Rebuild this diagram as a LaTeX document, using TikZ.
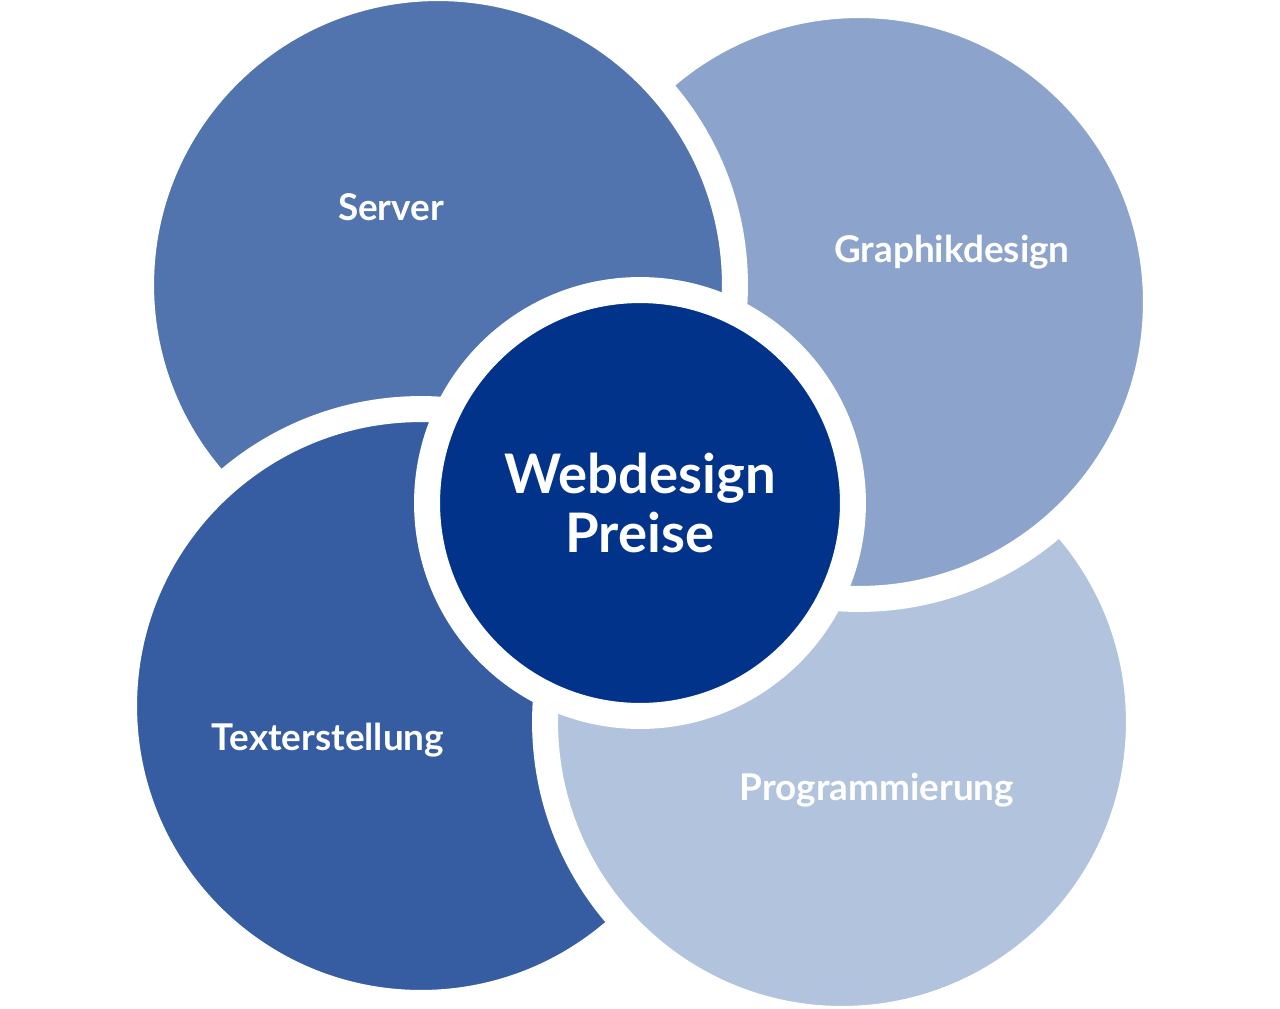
\documentclass[tikz,border=0pt]{standalone}
\usepackage{fontspec}
\setmainfont{Lato}
\usetikzlibrary{positioning}
\definecolor{cserver}{HTML}{5173AE}
\definecolor{cgraphik}{HTML}{8CA4CC}
\definecolor{ctext}{HTML}{365DA2}
\definecolor{cprog}{HTML}{B2C3DE}
\definecolor{ccenter}{HTML}{02338A}
\tikzset{
  petal/.style={circle, draw=white, line width=0.52cm, minimum size=11.88cm, inner sep=0pt},
  hub/.style={circle, draw=white, line width=0.52cm, minimum size=8.52cm, inner sep=0pt, fill=ccenter},
  petallabel/.style={text=white, font=\bfseries\fontsize{21}{24}\selectfont},
  hublabel/.style={text=white, align=center, font=\bfseries\fontsize{31}{34}\selectfont}
}
\begin{document}
\begin{tikzpicture}[x=0.02cm, y=-0.02cm]
    \useasboundingbox (0,0) rectangle (1280,1008);
    % Petals
    \node (text) [petal, fill=ctext] at (421,706) {};
    \node (prog) [petal, fill=cprog] at (842,722) {};
    \node (graphik) [petal, fill=cgraphik] at (859,302) {};
    \node (server) [petal, fill=cserver] at (438,285) {};
    \begin{scope}
      \clip (0,380) rectangle (520,640);
      \node (text2) [petal, fill=ctext] at (421,706) {};
    \end{scope}
    % Hub
    \node (hub) [hub] at (640,503) {};
    % Labels
    \node (serverlbl) [petallabel] at (391,207) {Server};
    \node (graphiklbl) [petallabel] at (952,252) {Graphikdesign};
    \node (textlbl) [petallabel] at (328,740) {Texterstellung};
    \node (proglbl) [petallabel] at (877,790) {Programmierung};
    \node (hublbl) [hublabel] at (hub) {Webdesign\\Preise};
\end{tikzpicture}
\end{document}
